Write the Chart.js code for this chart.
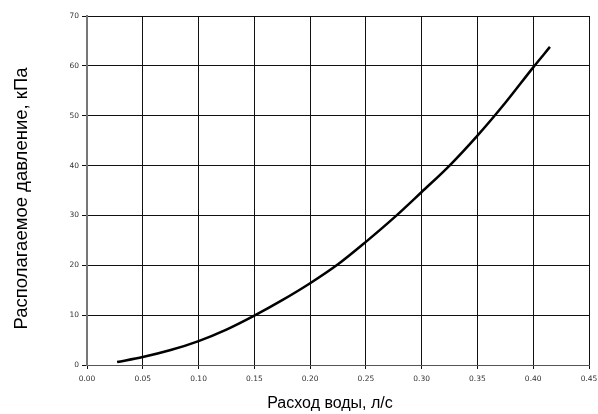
<!DOCTYPE html>
<html>
<head>
<meta charset="utf-8">
<script src="https://cdn.jsdelivr.net/npm/chart.js@4"></script>
<style>
html,body{margin:0;padding:0;background:#fff;}
#wrap{width:598px;height:414px;}
</style>
</head>
<body>
<div id="wrap"><canvas id="c" width="598" height="414"></canvas></div>
<script>
const flowValues = [0.027, 0.05, 0.075, 0.10, 0.125, 0.15, 0.175, 0.20, 0.225, 0.25, 0.275, 0.30, 0.325, 0.35, 0.375, 0.40, 0.415];
const pressureValues = [0.6, 1.6, 3.0, 4.8, 7.1, 9.9, 13.0, 16.4, 20.2, 24.7, 29.5, 34.7, 40.0, 46.0, 52.6, 59.7, 63.8];
const xTitle = 'Расход воды, л/с';
const yTitle = 'Располагаемое давление, кПа';

const points = flowValues.map((x, i) => ({x: x, y: pressureValues[i]}));

const titlePlugin = {
  id: 'titles',
  afterDraw(chart) {
    const ctx = chart.ctx;
    const ca = chart.chartArea;
    ctx.save();
    ctx.fillStyle = '#000';
    ctx.textAlign = 'center';
    ctx.textBaseline = 'middle';
    ctx.font = '16px "Liberation Sans"';
    ctx.fillText(xTitle, (ca.left + ca.right) / 2 - 8, 404);
    ctx.translate(22, (ca.top + ca.bottom) / 2 + 8);
    ctx.rotate(-Math.PI / 2);
    ctx.font = '18.5px "Liberation Sans"';
    ctx.fillText(yTitle, 0, 0);
    ctx.restore();
  }
};

new Chart(document.getElementById('c'), {
  type: 'line',
  data: {
    datasets: [{
      data: points,
      borderColor: '#000',
      borderWidth: 2.5,
      pointRadius: 0,
      fill: false,
      cubicInterpolationMode: 'monotone'
    }]
  },
  options: {
    responsive: false,
    animation: false,
    devicePixelRatio: 1,
    layout: {padding: {top: 16, right: 0, left: 0, bottom: 0}},
    plugins: {legend: {display: false}, tooltip: {enabled: false}},
    scales: {
      x: {
        type: 'linear',
        min: 0, max: 0.45,
        ticks: {stepSize: 0.05, color: '#333', font: {family: 'DejaVu Sans', size: 7.5}, padding: 6,
          callback: v => v.toFixed(2)},
        grid: {color: '#111', lineWidth: 1, tickLength: 4, drawTicks: true},
        border: {color: '#555', width: 1},
        title: {display: false},
        afterFit: s => { s.height = 49; s.paddingRight = 9; s.paddingLeft = 0; }
      },
      y: {
        min: 0, max: 70,
        ticks: {stepSize: 10, color: '#333', font: {family: 'DejaVu Sans', size: 7.5}, padding: 3},
        grid: {color: '#111', lineWidth: 1, tickLength: 5, drawTicks: true},
        border: {color: '#777', width: 2},
        title: {display: false},
        afterFit: s => { s.width = 87; s.paddingTop = 0; s.paddingBottom = 0; }
      }
    }
  },
  plugins: [titlePlugin]
});
</script>
</body>
</html>
